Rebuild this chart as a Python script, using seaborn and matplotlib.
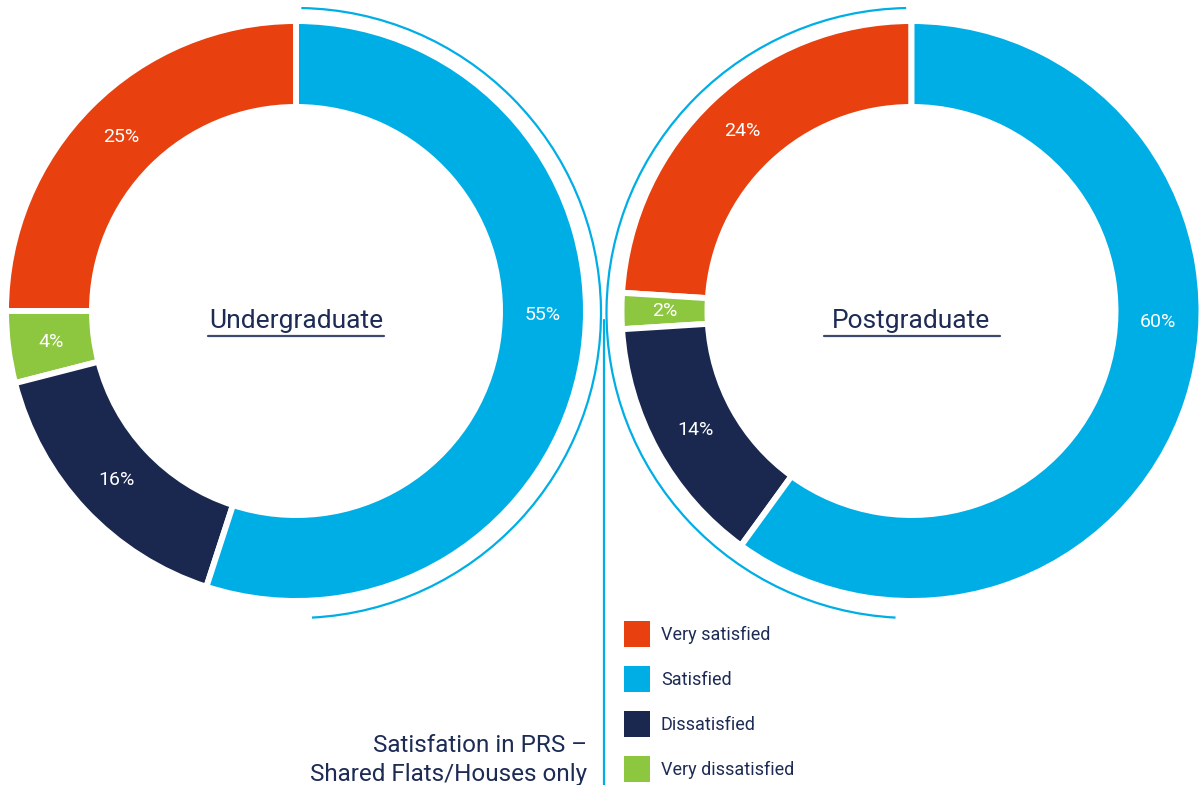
import numpy as np
import matplotlib.pyplot as plt
import seaborn as sns
from matplotlib.patches import Arc, Patch

# Satisfaction in PRS - shared flats/houses only
categories = ["Very satisfied", "Satisfied", "Dissatisfied", "Very dissatisfied"]
undergrad = [25, 55, 16, 4]
postgrad = [24, 60, 14, 2]
group_names = ["Undergraduate", "Postgraduate"]

colors = {"Very satisfied": "#e8410f", "Satisfied": "#00aee6",
          "Dissatisfied": "#1a2850", "Very dissatisfied": "#8dc63f"}
pie_order = ["Very satisfied", "Very dissatisfied", "Dissatisfied", "Satisfied"]

navy = "#1d2b55"
line_blue = "#00aee6"

sns.set_theme(style="white")
plt.rcParams["font.family"] = ["Roboto", "DejaVu Sans"]

W, H = 1203, 785
fig = plt.figure(figsize=(W / 100, H / 100), dpi=100)
ax = fig.add_axes([0, 0, 1, 1])

# donut geometry in pixel units (y measured from the bottom)
centers = [(296, H - 311), (911.5, H - 311)]
r_out, r_in = 290, 204
arc_r = 305
arc_spans = [(-87, 89), (91, 267)]
sat_angle = [-1, -2.5]

for k, (vals, name) in enumerate(zip([undergrad, postgrad], group_names)):
    d = dict(zip(categories, vals))
    v = [d[c] for c in pie_order]
    cx, cy = centers[k]
    wedges, texts, autotexts = ax.pie(
        v, colors=[colors[c] for c in pie_order], startangle=90, counterclock=True,
        center=(cx, cy), radius=r_out, frame=True,
        autopct="%d%%", pctdistance=0.85,
        wedgeprops=dict(width=r_out - r_in, edgecolor="white", linewidth=4.3),
        textprops=dict(color="white", fontsize=14))
    # the big "Satisfied" label sits on the horizontal
    rr = 0.85 * r_out
    a = np.deg2rad(sat_angle[k])
    autotexts[-1].set_position((cx + rr * np.cos(a), cy + rr * np.sin(a)))

    # centre label, underlined
    ax.text(cx, cy - 10, name, ha="center", va="center", fontsize=19, color=navy)
    ax.plot([cx - 88, cx + 88], [cy - 25, cy - 25], color="#3d4a70", lw=1.6)

    # thin arc around the donut
    t1, t2 = arc_spans[k]
    ax.add_patch(Arc((cx, H - 313), 2 * arc_r, 2 * arc_r, theta1=t1, theta2=t2,
                     color=line_blue, lw=1.6))

# divider line
ax.plot([604, 604], [0, H - 320], color=line_blue, lw=1.6)

# legend
handles = [Patch(facecolor=colors[c], edgecolor="none", label=c) for c in categories]
leg = ax.legend(handles=handles, loc="upper left", bbox_to_anchor=(624, H - 621),
                bbox_transform=ax.transData, frameon=False, fontsize=13,
                handlelength=1.44, handleheight=1.85, handletextpad=0.6,
                labelspacing=1.05, borderpad=0, borderaxespad=0)
for txt in leg.get_texts():
    txt.set_color(navy)

# title
ax.text(587, H - 745, "Satisfation in PRS –", ha="right", va="center",
        fontsize=17.5, color=navy)
ax.text(587, H - 775, "Shared Flats/Houses only", ha="right", va="center",
        fontsize=17.5, color=navy)

ax.set_xlim(0, W)
ax.set_ylim(0, H)
ax.set_aspect("equal")
ax.axis("off")

fig.savefig("out.png", dpi=100, facecolor="white")
